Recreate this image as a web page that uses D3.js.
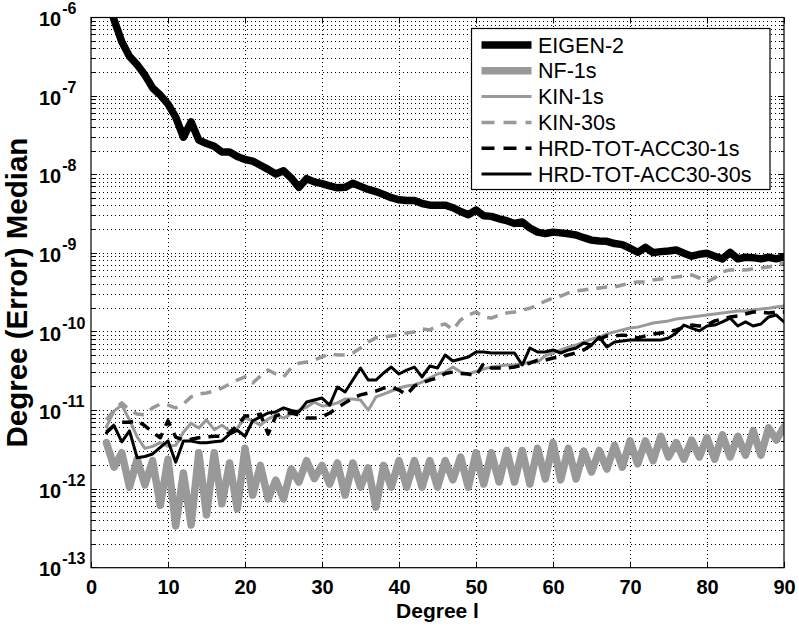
<!DOCTYPE html>
<html>
<head>
<meta charset="utf-8">
<script src="https://cdn.jsdelivr.net/npm/d3@7"></script>
<style>
  body { margin: 0; background: #fff; }
  text { font-family: "Liberation Sans", Arial, Helvetica, sans-serif; fill: #000; }
</style>
</head>
<body>
<div class="main-graph"></div>
<script>
// degrees l = 2 .. 90
var degrees = d3.range(2, 91);

var eigen2 = [1.9e-6, 9.3e-7, 4.9e-7, 3.2e-7, 2.5e-7, 1.85e-7, 1.27e-7, 1.03e-7, 7.9e-8, 5.4e-8,
  3.0e-8, 4.7e-8, 2.75e-8, 2.5e-8, 2.3e-8, 1.94e-8, 1.94e-8, 1.7e-8, 1.56e-8, 1.49e-8,
  1.32e-8, 1.17e-8, 1.02e-8, 1.12e-8, 9.1e-9, 6.9e-9, 8.9e-9, 8.1e-9, 7.7e-9, 7.2e-9,
  6.8e-9, 6.9e-9, 7.8e-9, 7.1e-9, 6.5e-9, 6.1e-9, 5.6e-9, 5.1e-9, 4.8e-9, 4.7e-9,
  4.7e-9, 4.3e-9, 4.1e-9, 4.1e-9, 4.1e-9, 3.8e-9, 3.4e-9, 3.1e-9, 3.55e-9, 3.0e-9,
  2.95e-9, 2.75e-9, 2.6e-9, 2.4e-9, 2.5e-9, 2.1e-9, 1.86e-9, 1.78e-9, 1.86e-9, 1.82e-9,
  1.77e-9, 1.71e-9, 1.58e-9, 1.47e-9, 1.43e-9, 1.42e-9, 1.33e-9, 1.29e-9, 1.16e-9, 1.03e-9,
  1.19e-9, 1.02e-9, 1.05e-9, 1.07e-9, 1.1e-9, 1.0e-9, 9.2e-10, 9.7e-10, 1.0e-9, 9.2e-10,
  8.5e-10, 1.03e-9, 8.5e-10, 8.9e-10, 8.8e-10, 8.5e-10, 8.9e-10, 8.5e-10, 9.0e-10];

var nf1s = [3.9e-12, 1.9e-12, 2.9e-12, 1.06e-12, 2.4e-12, 1.13e-12, 2.3e-12, 6.2e-13, 2.4e-12, 3.4e-13,
  1.6e-12, 3.5e-13, 2.9e-12, 4.7e-13, 2.9e-12, 6.5e-13, 2.15e-12, 5.6e-13, 3.3e-12, 8.4e-13,
  2.0e-12, 7.5e-13, 1.3e-12, 7.5e-13, 1.8e-12, 1.23e-12, 2.3e-12, 1.36e-12, 2.0e-12, 1.16e-12,
  2.15e-12, 8.4e-13, 2.15e-12, 1.06e-12, 1.86e-12, 5.9e-13, 2.0e-12, 1.06e-12, 2.3e-12, 1.06e-12,
  2.3e-12, 1.06e-12, 2.3e-12, 1.06e-12, 2.3e-12, 1.31e-12, 2.56e-12, 1.06e-12, 2.9e-12, 1.16e-12,
  2.9e-12, 1.23e-12, 3.1e-12, 1.23e-12, 3.1e-12, 1.16e-12, 3.3e-12, 1.35e-12, 3.9e-12, 1.31e-12,
  3.3e-12, 1.35e-12, 3.05e-12, 1.65e-12, 3.1e-12, 1.8e-12, 3.6e-12, 1.9e-12, 4.1e-12, 2.1e-12,
  4.1e-12, 2.3e-12, 4.7e-12, 2.56e-12, 3.9e-12, 2.4e-12, 4.2e-12, 2.56e-12, 4.5e-12, 2.4e-12,
  4.9e-12, 2.56e-12, 4.7e-12, 2.7e-12, 5.5e-12, 2.7e-12, 6.0e-12, 4.2e-12, 6.2e-12];

var kin1s = [6.2e-12, 9.9e-12, 1.17e-11, 7.6e-12, 4.6e-12, 3.3e-12, 3.5e-12, 3.9e-12, 3.5e-12, 3.6e-12,
  5.3e-12, 6.9e-12, 6.0e-12, 7.6e-12, 5.7e-12, 6.5e-12, 5.5e-12, 6.0e-12, 8.0e-12, 7.4e-12,
  6.5e-12, 7.8e-12, 8.8e-12, 8.0e-12, 9.0e-12, 1.01e-11, 1.1e-11, 1.28e-11, 1.14e-11, 1.17e-11,
  1.25e-11, 1.4e-11, 1.4e-11, 1.36e-11, 1.01e-11, 1.49e-11, 1.62e-11, 1.77e-11, 1.93e-11, 2.05e-11,
  2.11e-11, 2.3e-11, 2.59e-11, 2.91e-11, 3.08e-11, 3.58e-11, 3.08e-11, 2.91e-11, 3.13e-11, 3.38e-11,
  3.58e-11, 3.68e-11, 3.79e-11, 3.79e-11, 3.9e-11, 4.14e-11, 4.14e-11, 4.95e-11, 5.4e-11, 5.9e-11,
  6.4e-11, 6.8e-11, 7.4e-11, 8.1e-11, 8.6e-11, 9.4e-11, 1.0e-10, 1.06e-10, 1.12e-10, 1.15e-10,
  1.22e-10, 1.3e-10, 1.34e-10, 1.38e-10, 1.46e-10, 1.5e-10, 1.55e-10, 1.59e-10, 1.64e-10, 1.69e-10,
  1.74e-10, 1.79e-10, 1.84e-10, 1.84e-10, 1.9e-10, 1.96e-10, 2.0e-10, 2.07e-10, 2.13e-10];

var kin30s = [7.6e-12, 1.01e-11, 1.25e-11, 1.01e-11, 9.0e-12, 8.8e-12, 1.08e-11, 1.21e-11, 1.17e-11, 1.08e-11,
  1.21e-11, 1.49e-11, 1.62e-11, 1.67e-11, 1.77e-11, 1.93e-11, 2.17e-11, 2.44e-11, 2.67e-11, 2.24e-11,
  2.75e-11, 3.28e-11, 2.91e-11, 2.67e-11, 3.47e-11, 4.0e-11, 4.14e-11, 4.38e-11, 4.8e-11, 5.24e-11,
  5.1e-11, 5.1e-11, 5.39e-11, 6.24e-11, 7.44e-11, 8.4e-11, 8.6e-11, 8.9e-11, 9.1e-11, 9.7e-11,
  1.0e-10, 1.09e-10, 1.06e-10, 1.19e-10, 1.26e-10, 1.06e-10, 1.42e-10, 1.64e-10, 1.79e-10, 1.55e-10,
  1.5e-10, 1.64e-10, 1.74e-10, 1.79e-10, 1.9e-10, 2.0e-10, 2.2e-10, 2.47e-10, 2.7e-10, 2.86e-10,
  3.13e-10, 3.32e-10, 3.42e-10, 3.52e-10, 3.62e-10, 3.73e-10, 3.73e-10, 3.95e-10, 4.19e-10, 4.31e-10,
  4.31e-10, 4.58e-10, 4.71e-10, 4.85e-10, 5.0e-10, 5.15e-10, 5.3e-10, 4.85e-10, 4.31e-10, 4.85e-10,
  5.8e-10, 6.15e-10, 6.15e-10, 6.15e-10, 6.3e-10, 6.5e-10, 6.7e-10, 7.1e-10, 7.5e-10];

var hrd1s = [5.3e-12, 6.5e-12, 7.1e-12, 7.1e-12, 7.4e-12, 6.4e-12, 5.3e-12, 4.5e-12, 7.4e-12, 4.6e-12,
  4.2e-12, 4.3e-12, 4.5e-12, 4.6e-12, 4.7e-12, 4.7e-12, 5.2e-12, 6.5e-12, 8.5e-12, 8.5e-12,
  9.0e-12, 5.0e-12, 8.5e-12, 9.3e-12, 9.3e-12, 8.8e-12, 8.0e-12, 8.0e-12, 8.3e-12, 9.3e-12,
  1.08e-11, 1.25e-11, 1.44e-11, 1.58e-11, 1.67e-11, 1.77e-11, 1.93e-11, 1.99e-11, 1.82e-11, 1.58e-11,
  2.05e-11, 2.24e-11, 2.44e-11, 2.59e-11, 2.96e-11, 3.08e-11, 2.96e-11, 2.91e-11, 2.75e-11, 4.0e-11,
  3.47e-11, 3.47e-11, 3.47e-11, 3.58e-11, 3.79e-11, 4.0e-11, 4.38e-11, 4.38e-11, 4.66e-11, 4.8e-11,
  5.1e-11, 5.4e-11, 5.9e-11, 6.8e-11, 8.1e-11, 8.9e-11, 8.9e-11, 9.1e-11, 8.9e-11, 8.4e-11,
  8.9e-11, 9.4e-11, 9.7e-11, 1.0e-10, 1.06e-10, 1.15e-10, 1.22e-10, 1.19e-10, 1.22e-10, 1.38e-10,
  1.46e-10, 1.55e-10, 1.59e-10, 1.69e-10, 1.79e-10, 1.79e-10, 1.74e-10, 1.79e-10, 1.79e-10];

var hrd30s = [5.2e-12, 6.4e-12, 4.0e-12, 5.5e-12, 2.5e-12, 2.6e-12, 2.8e-12, 3.4e-12, 4.1e-12, 2.2e-12,
  4.1e-12, 4.1e-12, 3.9e-12, 3.9e-12, 4.0e-12, 4.1e-12, 5.0e-12, 5.6e-12, 4.7e-12, 7.4e-12,
  8.3e-12, 9.3e-12, 9.6e-12, 1.08e-11, 1.0e-11, 9.6e-12, 1.28e-11, 1.36e-11, 1.44e-11, 1.17e-11,
  1.99e-11, 1.72e-11, 2.44e-11, 3.47e-11, 2.44e-11, 2.44e-11, 3.0e-11, 3.57e-11, 2.91e-11, 3.27e-11,
  3.57e-11, 2.67e-11, 3.68e-11, 3.47e-11, 5.08e-11, 4.26e-11, 4.52e-11, 4.8e-11, 5.55e-11, 5.55e-11,
  5.39e-11, 5.39e-11, 5.39e-11, 5.39e-11, 3.79e-11, 6.24e-11, 5.55e-11, 5.55e-11, 5.89e-11, 5.39e-11,
  5.89e-11, 6.24e-11, 7.22e-11, 6.81e-11, 8.61e-11, 6.43e-11, 7.44e-11, 7.66e-11, 7.89e-11, 7.89e-11,
  7.89e-11, 7.89e-11, 7.89e-11, 8.36e-11, 9.68e-11, 1.22e-10, 1.12e-10, 1.03e-10, 1.19e-10, 1.22e-10,
  1.34e-10, 1.5e-10, 1.19e-10, 1.34e-10, 1.19e-10, 1.26e-10, 1.55e-10, 1.64e-10, 1.34e-10];

var seriesNames = ["EIGEN-2", "NF-1s", "KIN-1s", "KIN-30s", "HRD-TOT-ACC30-1s", "HRD-TOT-ACC30-30s"];
var xTicks = [0, 10, 20, 30, 40, 50, 60, 70, 80, 90];
var yExponents = [-13, -12, -11, -10, -9, -8, -7, -6];

var gray = "#999999";
var series = [
  {name: seriesNames[0], values: eigen2, color: "#000", width: 7.5, dash: null},
  {name: seriesNames[1], values: nf1s,   color: gray,   width: 7.5, dash: null},
  {name: seriesNames[2], values: kin1s,  color: gray,   width: 3,   dash: null},
  {name: seriesNames[3], values: kin30s, color: gray,   width: 3.5, dash: "11,8"},
  {name: seriesNames[4], values: hrd1s,  color: "#000", width: 3.5, dash: "11,8"},
  {name: seriesNames[5], values: hrd30s, color: "#000", width: 3,   dash: null}
];

var margin = {top: 17.5, right: 15, bottom: 59.3, left: 91},
    width = 799 - margin.left - margin.right,
    height = 627 - margin.top - margin.bottom;

var root = d3.select(".main-graph")
  .append("svg")
  .attr("width", 799)
  .attr("height", 627);

var svg = root.append("g")
  .attr("transform", "translate(" + margin.left + "," + margin.top + ")");

var x = d3.scaleLinear().domain([0, 90]).range([0, width]);
var y = d3.scaleLog().domain([1e-13, 1e-6]).range([height, 0]);

root.append("defs").append("clipPath").attr("id", "plot-clip")
  .append("rect").attr("width", width).attr("height", height);

//====== Gridlines (dotted) ======
var minorVals = [];
yExponents.slice(0, -1).forEach(function(e) {
  for (var k = 1; k <= 9; k++) minorVals.push(k * Math.pow(10, e));
});
minorVals.push(1e-6);

svg.append("g").attr("class", "grid")
  .selectAll("line").data(minorVals.filter(function(v){ return v > 1e-13 && v < 1e-6; }))
  .join("line")
  .attr("x1", 0).attr("x2", width)
  .attr("y1", function(d){ return y(d); }).attr("y2", function(d){ return y(d); })
  .attr("stroke", "#000").attr("stroke-width", 1)
  .attr("stroke-dasharray", "1,3")
  .attr("shape-rendering", "crispEdges");

svg.append("g").attr("class", "grid")
  .selectAll("line").data(xTicks.slice(1, -1))
  .join("line")
  .attr("x1", function(d){ return x(d); }).attr("x2", function(d){ return x(d); })
  .attr("y1", 0).attr("y2", height)
  .attr("stroke", "#000").attr("stroke-width", 1)
  .attr("stroke-dasharray", "1,3")
  .attr("shape-rendering", "crispEdges");

//====== Axes with inward ticks ======
var xAxis = svg.append("g")
  .attr("transform", "translate(0," + height + ")")
  .call(d3.axisBottom(x).tickValues(xTicks).tickSizeInner(-6).tickSizeOuter(0).tickPadding(12));
xAxis.select(".domain").remove();
xAxis.selectAll("text").style("font-size", "20px").style("font-weight", "bold")
  .style("font-family", "'Liberation Sans', Arial, sans-serif");

var xTop = svg.append("g")
  .call(d3.axisTop(x).tickValues(xTicks).tickSizeInner(-6).tickSizeOuter(0).tickFormat(""));
xTop.select(".domain").remove();

var majorY = yExponents.map(function(e){ return Math.pow(10, e); });
var minorY = minorVals.filter(function(v){ return majorY.indexOf(v) < 0; });

[0, width].forEach(function(x0) {
  var dir = x0 === 0 ? 1 : -1;
  var g = svg.append("g");
  g.selectAll("line.major").data(majorY).join("line").attr("class", "major")
    .attr("x1", x0).attr("x2", x0 + dir * 6)
    .attr("y1", function(d){ return y(d); }).attr("y2", function(d){ return y(d); })
    .attr("stroke", "#000").attr("shape-rendering", "crispEdges");
  g.selectAll("line.minor").data(minorY).join("line").attr("class", "minor")
    .attr("x1", x0).attr("x2", x0 + dir * 3.5)
    .attr("y1", function(d){ return y(d); }).attr("y2", function(d){ return y(d); })
    .attr("stroke", "#000").attr("shape-rendering", "crispEdges");
});

// y tick labels 10^e
var yLab = svg.append("g").selectAll("text").data(yExponents).join("text")
  .attr("x", 39 - margin.left)
  .attr("y", function(d){ return y(Math.pow(10, d)) + 8.7; })
  .style("font-size", "20px").style("font-weight", "bold");
yLab.append("tspan").text("10");
yLab.append("tspan").attr("dy", -12).attr("dx", 1).style("font-size", "16px")
  .text(function(d){ return "-" + Math.abs(d); });

//====== Lines ======
var line = d3.line()
  .x(function(d, i){ return x(degrees[i]); })
  .y(function(d){ return y(d); });

var plot = svg.append("g").attr("clip-path", "url(#plot-clip)");
series.forEach(function(s) {
  plot.append("path")
    .attr("d", line(s.values))
    .attr("fill", "none")
    .attr("stroke", s.color)
    .attr("stroke-width", s.width)
    .attr("stroke-linejoin", "round")
    .attr("stroke-linecap", s.dash ? "butt" : "round")
    .attr("stroke-dasharray", s.dash);
});

// box
svg.append("rect")
  .attr("width", width).attr("height", height)
  .attr("fill", "none").attr("stroke", "#000").attr("stroke-width", 1.2);

//====== Labels ======
root.append("text")
  .attr("x", margin.left + width / 2).attr("y", 617.5)
  .attr("text-anchor", "middle")
  .style("font-size", "21px").style("font-weight", "bold")
  .text("Degree l");

root.append("text")
  .attr("text-anchor", "middle")
  .attr("transform", "translate(27," + (margin.top + height / 2) + ")rotate(-90)")
  .style("font-size", "29.5px").style("font-weight", "bold")
  .text("Degree (Error) Median");

//====== Legend ======
var legend = root.append("g").attr("transform", "translate(471.5,28.5)");
legend.append("rect")
  .attr("width", 298.5).attr("height", 161)
  .attr("fill", "#fff").attr("stroke", "#000").attr("stroke-width", 1.2);

var rows = legend.selectAll("g.row").data(series).join("g").attr("class", "row")
  .attr("transform", function(d, i){ return "translate(0," + (16.5 + i * 25.8) + ")"; });
rows.append("line")
  .attr("x1", 10).attr("x2", 60)
  .attr("stroke", function(d){ return d.color; })
  .attr("stroke-width", function(d){ return d.width; })
  .attr("stroke-dasharray", function(d){ return d.dash ? "13,9" : null; });
rows.append("text")
  .attr("x", 66.5).attr("y", 7.5)
  .style("font-size", "21.5px")
  .text(function(d){ return d.name; });
</script>
</body>
</html>
